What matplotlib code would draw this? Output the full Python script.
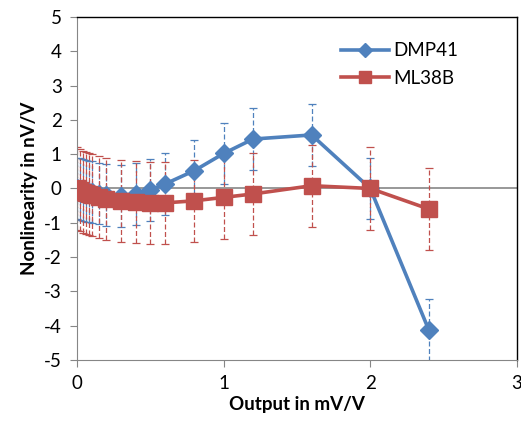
import matplotlib
matplotlib.use('Agg')
import matplotlib.pyplot as plt

BLUE = '#4F81BD'; RED = '#C0504D'; GRID = '#868686'

plt.rcParams['font.family'] = ['Lato', 'DejaVu Sans']
plt.rcParams['axes.unicode_minus'] = False

output = [0, 0.02, 0.04, 0.06, 0.08, 0.10, 0.15, 0.20, 0.30, 0.40, 0.50, 0.60,
          0.80, 1.00, 1.20, 1.60, 2.00, 2.40]
dmp41 = [0, -0.02, -0.05, -0.07, -0.09, -0.11, -0.15, -0.20, -0.22, -0.16, -0.04, 0.13,
         0.52, 1.02, 1.44, 1.56, 0.0, -4.13]
ml38b = [0, -0.05, -0.10, -0.13, -0.16, -0.19, -0.25, -0.30, -0.36, -0.40, -0.42, -0.42,
         -0.36, -0.26, -0.16, 0.08, 0.0, -0.60]
dmp41_err = 0.9
ml38b_err = 1.2

fig = plt.figure(figsize=(5.21, 4.34), dpi=100)
ax = fig.add_axes([0.148, 0.1705, 0.844, 0.7905])

ax.axhline(0, color=GRID, lw=1.2, zorder=1)

for y, err, col, mk, ms, lab in [(dmp41, dmp41_err, BLUE, 'D', 9, 'DMP41'),
                                  (ml38b, ml38b_err, RED, 's', 11, 'ML38B')]:
    eb = ax.errorbar(output, y, yerr=err, fmt='none', ecolor=col, elinewidth=0.9,
                     capsize=3, capthick=0.9, zorder=2)
    for ln in eb[2]:
        ln.set_linestyle((0, (4, 2)))
    ax.plot(output, y, color=col, lw=2.6, marker=mk, ms=ms, mfc=col, mec=col,
            label=lab, zorder=3)

ax.set_xlim(0, 3)
ax.set_ylim(-5, 5)
ax.set_xticks([0, 1, 2, 3])
ax.set_yticks(range(-5, 6))
ax.tick_params(labelsize=13.5, color=GRID, length=5, direction='out', pad=6)

for s in ['left', 'bottom']:
    ax.spines[s].set_color(GRID)
for s in ['top', 'right']:
    ax.spines[s].set_color('black')
    ax.spines[s].set_linewidth(1.0)

ax.set_xlabel('Output in mV/V', fontsize=13.5, fontweight='bold', labelpad=3)
ax.set_ylabel('Nonlinearity in nV/V', fontsize=13.5, fontweight='bold', labelpad=4)

ax.legend(loc='upper right', bbox_to_anchor=(0.905, 0.975), frameon=False, fontsize=13.5,
          handlelength=2.6, handletextpad=0.2, labelspacing=0.55, markerscale=0.8)

fig.savefig('out.png', dpi=100, facecolor='white')
